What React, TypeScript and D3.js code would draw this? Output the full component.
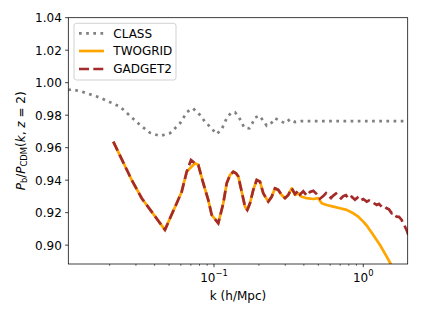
import React from "react";
import * as d3 from "d3";

// ---- data ----
const classK = [0.01057, 0.01114, 0.013, 0.01723, 0.02346, 0.03194, 0.03726, 0.04348, 0.05074, 0.05921, 0.06597, 0.07233, 0.08057, 0.087, 0.094, 0.1042, 0.1126, 0.1216, 0.1294, 0.1382, 0.1471, 0.1533, 0.1596, 0.1723, 0.1805, 0.1882, 0.2011, 0.2138, 0.2254, 0.2435, 0.2562, 0.2768, 0.299, 0.3228, 0.3487, 0.3868, 0.5, 0.7, 1.0, 1.4, 1.984];
const classV = [0.9955, 0.9959, 0.9945, 0.9908, 0.9852, 0.974, 0.9692, 0.9672, 0.9689, 0.975, 0.982, 0.9842, 0.9801, 0.976, 0.9729, 0.9684, 0.9713, 0.9781, 0.9812, 0.9818, 0.9787, 0.9754, 0.9723, 0.9719, 0.975, 0.9785, 0.9797, 0.9766, 0.9735, 0.9754, 0.9781, 0.9766, 0.975, 0.9775, 0.9758, 0.9764, 0.9763, 0.9763, 0.9763, 0.9763, 0.9763];

const twogridK = [0.02116, 0.02811, 0.03279, 0.04696, 0.05074, 0.05626, 0.06076, 0.06566, 0.06906, 0.07458, 0.07848, 0.08478, 0.09159, 0.09652, 0.10685, 0.11541, 0.12166, 0.128, 0.13468, 0.14045, 0.14553, 0.15333, 0.16134, 0.16711, 0.1742, 0.18331, 0.1932, 0.20329, 0.2139, 0.23104, 0.24349, 0.25621, 0.26959, 0.28404, 0.29898, 0.31455, 0.33143, 0.34874, 0.36697, 0.3867, 0.41772, 0.46251, 0.49955, 0.5265, 0.56871, 0.62968, 0.69814, 0.77409, 0.85704, 0.92574, 1.0, 1.0539, 1.1668, 1.294, 1.4348, 1.5333];
const twogridV = [0.9637, 0.9401, 0.9289, 0.9094, 0.9166, 0.9258, 0.9329, 0.9452, 0.9473, 0.9504, 0.9494, 0.9381, 0.9278, 0.9186, 0.9135, 0.9258, 0.9381, 0.9432, 0.9452, 0.9442, 0.9422, 0.9329, 0.9237, 0.9217, 0.9258, 0.934, 0.9401, 0.9391, 0.9319, 0.9268, 0.9298, 0.935, 0.934, 0.9309, 0.9289, 0.9309, 0.935, 0.9309, 0.9319, 0.9298, 0.9289, 0.9284, 0.9289, 0.9258, 0.9247, 0.9237, 0.9227, 0.9217, 0.9196, 0.9175, 0.9145, 0.9121, 0.9063, 0.9001, 0.8929, 0.8881];

const gadgetK = [0.02116, 0.02811, 0.03279, 0.04696, 0.05074, 0.05626, 0.06076, 0.06566, 0.07014, 0.07458, 0.07848, 0.08478, 0.09159, 0.09652, 0.10685, 0.11541, 0.12166, 0.128, 0.13468, 0.14045, 0.14553, 0.15333, 0.16134, 0.16711, 0.1742, 0.18331, 0.1932, 0.20329, 0.2139, 0.23104, 0.24349, 0.25621, 0.26959, 0.28404, 0.29898, 0.31455, 0.33143, 0.34874, 0.36697, 0.3767, 0.39633, 0.41772, 0.43954, 0.46251, 0.48741, 0.51286, 0.53963, 0.56259, 0.58288, 0.60771, 0.62968, 0.65645, 0.68017, 0.709, 0.73451, 0.76575, 0.7934, 0.83618, 0.87982, 0.91452, 0.95039, 1.0, 1.0539, 1.0919, 1.1383, 1.1795, 1.2298, 1.2742, 1.3285, 1.3764, 1.4348, 1.4866, 1.55, 1.6059, 1.6741, 1.7345, 1.8083, 1.8534, 1.9027, 1.9624, 2.002];
const gadgetV = [0.9637, 0.9401, 0.9289, 0.9094, 0.9166, 0.9258, 0.9329, 0.9452, 0.9524, 0.9504, 0.9494, 0.9381, 0.9278, 0.9186, 0.9135, 0.9258, 0.9381, 0.9432, 0.9452, 0.9442, 0.9422, 0.9329, 0.9237, 0.9217, 0.9258, 0.934, 0.9401, 0.9391, 0.9319, 0.9268, 0.9298, 0.935, 0.934, 0.9309, 0.9289, 0.9309, 0.935, 0.9315, 0.9335, 0.9312, 0.9332, 0.9305, 0.9328, 0.9334, 0.9314, 0.9286, 0.9302, 0.932, 0.9305, 0.929, 0.9305, 0.9318, 0.9302, 0.9288, 0.9302, 0.9308, 0.9286, 0.9298, 0.928, 0.9292, 0.9274, 0.9284, 0.9268, 0.9275, 0.9268, 0.9258, 0.9247, 0.9254, 0.9237, 0.9241, 0.9227, 0.922, 0.9196, 0.9198, 0.9175, 0.9174, 0.9155, 0.913, 0.9114, 0.9087, 0.9063];

const yTicks = [0.90, 0.92, 0.94, 0.96, 0.98, 1.00, 1.02, 1.04];
const xMajorTicks = [0.1, 1];
const xMajorExp = ["−1", "0"];
const legendLabels = ["CLASS", "TWOGRID", "GADGET2"];

const W = 421, H = 316;
const L = 68.3, R = 407.7, T = 17.7, B = 264;
const FONT = "DejaVu Sans, sans-serif";
const FS = 12;

export default function App() {
  const x = d3.scaleLog().domain([0.01057, 1.984]).range([L, R]);
  const y = d3.scaleLinear().domain([0.8884, 1.04]).range([B, T]);

  const mk = (ks: number[], vs: number[]) =>
    d3.line<number>().x((_, i) => x(ks[i])).y((v) => y(v))(vs) || "";

  const minor: number[] = [];
  for (const dec of [0.01, 0.1, 1]) {
    for (let m = 2; m <= 9; m++) {
      const v = dec * m;
      if (v > 0.01057 && v < 1.984) minor.push(v);
    }
  }

  const lw = 2.7;
  const gray = "#808080";
  const orange = "#FFA500";
  const brown = "#A52A2A";
  const dotted = `${lw},${lw * 1.65}`;
  const dashed = `${lw * 3.7},${lw * 1.6}`;

  const styles = [
    { stroke: gray, dash: dotted },
    { stroke: orange, dash: undefined },
    { stroke: brown, dash: dashed },
  ];
  const legY = [33.3, 51, 69];

  return (
    <svg width={W} height={H} style={{ position: "absolute", left: 0, top: 0, background: "#fff" }} fontFamily={FONT}>
      <defs>
        <clipPath id="plotclip">
          <rect x={L} y={T} width={R - L} height={B - T} />
        </clipPath>
      </defs>
      <rect x={0} y={0} width={W} height={H} fill="#fff" />
      <g clipPath="url(#plotclip)" fill="none" strokeWidth={lw}>
        <path d={mk(classK, classV)} stroke={gray} strokeDasharray={dotted} />
        <path d={mk(twogridK, twogridV)} stroke={orange} strokeLinejoin="round" />
        <path d={mk(gadgetK, gadgetV)} stroke={brown} strokeDasharray={dashed} />
      </g>
      {/* frame */}
      <rect x={L} y={T} width={R - L} height={B - T} fill="none" stroke="#000" strokeWidth={0.75} />
      {/* y ticks */}
      {yTicks.map((t) => (
        <g key={t}>
          <line x1={L - 3.2} x2={L} y1={y(t)} y2={y(t)} stroke="#000" strokeWidth={0.75} />
          <text x={L - 6.5} y={y(t) + 4.4} fontSize={FS} textAnchor="end">{t.toFixed(2)}</text>
        </g>
      ))}
      {/* x ticks */}
      {minor.map((t) => (
        <line key={t} x1={x(t)} x2={x(t)} y1={B} y2={B + 1.8} stroke="#000" strokeWidth={0.6} />
      ))}
      {xMajorTicks.map((t, i) => (
        <g key={t}>
          <line x1={x(t)} x2={x(t)} y1={B} y2={B + 3.2} stroke="#000" strokeWidth={0.75} />
          <text x={x(t)} y={281.5} fontSize={FS} textAnchor="middle">
            10<tspan fontSize={8.4} dy={-6}>{xMajorExp[i]}</tspan>
          </text>
        </g>
      ))}
      {/* axis labels */}
      <text x={(L + R) / 2} y={299.5} fontSize={FS} textAnchor="middle">k (h/Mpc)</text>
      <text transform={`translate(24.5,${(T + B) / 2}) rotate(-90)`} fontSize={FS} textAnchor="middle">
        <tspan fontStyle="italic">P</tspan>
        <tspan fontSize={8.4} dy={2.6}>b</tspan>
        <tspan dy={-2.6}>/</tspan>
        <tspan fontStyle="italic">P</tspan>
        <tspan fontSize={8.4} dy={2.6}>CDM</tspan>
        <tspan dy={-2.6}>(</tspan>
        <tspan fontStyle="italic">k</tspan>
        <tspan>, </tspan>
        <tspan fontStyle="italic">z</tspan>
        <tspan> = 2)</tspan>
      </text>
      {/* legend */}
      <rect x={74} y={23.3} width={102} height={56.7} rx={2.5} fill="#fff" fillOpacity={0.8} stroke="#cccccc" strokeWidth={0.9} />
      {legendLabels.map((lab, i) => (
        <g key={lab}>
          <line x1={79} x2={104} y1={legY[i]} y2={legY[i]} stroke={styles[i].stroke} strokeWidth={lw} strokeDasharray={styles[i].dash} />
          <text x={113.3} y={legY[i] + 4.4} fontSize={FS}>{lab}</text>
        </g>
      ))}
    </svg>
  );
}
